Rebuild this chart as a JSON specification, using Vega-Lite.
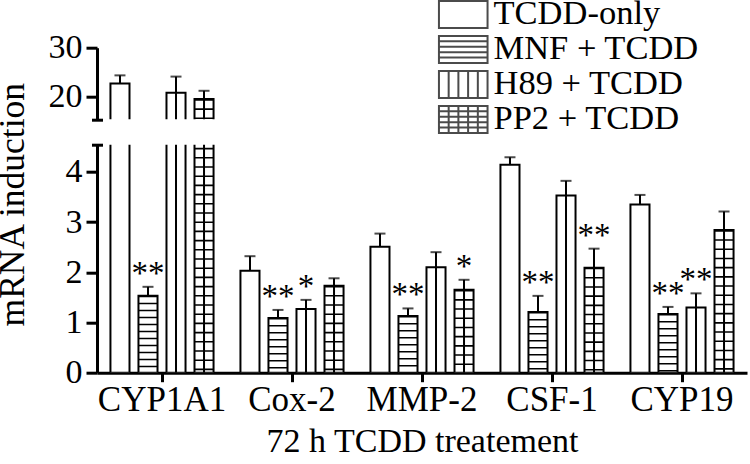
{
  "$schema": "https://vega.github.io/schema/vega-lite/v6.json",
  "background": "white",
  "autosize": {"type": "none"},
  "padding": {"left": 97, "top": 47.7, "right": 653, "bottom": 416.3},
  "spacing": 25,
  "bounds": "flush",
  "config": {
    "font": "Liberation Serif",
    "view": {"stroke": null},
    "axis": {
      "labelFont": "Liberation Serif", "titleFont": "Liberation Serif",
      "labelFontSize": 34, "titleFontSize": 34, "titleFontWeight": "normal",
      "domainColor": "black", "tickColor": "black", "labelColor": "black", "titleColor": "black",
      "domainWidth": 3, "tickWidth": 3, "grid": false
    },
    "legend": {
      "orient": "none", "legendX": 349, "legendY": -50.5, "title": null,
      "symbolSize": 729, "symbolStrokeWidth": 2, "symbolStrokeColor": "black",
      "labelFont": "Liberation Serif", "labelFontSize": 34.5, "labelColor": "black", "labelLimit": 0,
      "labelOffset": 13, "rowPadding": -5.5, "padding": 0
    }
  },
  "data": {"values": [
    {"gene":"CYP1A1","group":"TCDD-only","value":22.7,"upper":24.35,"sig":""},
    {"gene":"CYP1A1","group":"MNF + TCDD","value":1.53,"upper":1.71,"sig":"**"},
    {"gene":"CYP1A1","group":"H89 + TCDD","value":20.8,"upper":24.1,"sig":""},
    {"gene":"CYP1A1","group":"PP2 + TCDD","value":19.5,"upper":21.2,"sig":""},
    {"gene":"Cox-2","group":"TCDD-only","value":2.03,"upper":2.32,"sig":""},
    {"gene":"Cox-2","group":"MNF + TCDD","value":1.09,"upper":1.25,"sig":"**"},
    {"gene":"Cox-2","group":"H89 + TCDD","value":1.27,"upper":1.45,"sig":"*"},
    {"gene":"Cox-2","group":"PP2 + TCDD","value":1.73,"upper":1.88,"sig":""},
    {"gene":"MMP-2","group":"TCDD-only","value":2.51,"upper":2.77,"sig":""},
    {"gene":"MMP-2","group":"MNF + TCDD","value":1.13,"upper":1.28,"sig":"**"},
    {"gene":"MMP-2","group":"H89 + TCDD","value":2.1,"upper":2.4,"sig":""},
    {"gene":"MMP-2","group":"PP2 + TCDD","value":1.65,"upper":1.85,"sig":"*"},
    {"gene":"CSF-1","group":"TCDD-only","value":4.14,"upper":4.29,"sig":""},
    {"gene":"CSF-1","group":"MNF + TCDD","value":1.21,"upper":1.53,"sig":"**"},
    {"gene":"CSF-1","group":"H89 + TCDD","value":3.53,"upper":3.82,"sig":""},
    {"gene":"CSF-1","group":"PP2 + TCDD","value":2.09,"upper":2.47,"sig":"**"},
    {"gene":"CYP19","group":"TCDD-only","value":3.35,"upper":3.54,"sig":""},
    {"gene":"CYP19","group":"MNF + TCDD","value":1.17,"upper":1.31,"sig":"**"},
    {"gene":"CYP19","group":"H89 + TCDD","value":1.3,"upper":1.58,"sig":"**"},
    {"gene":"CYP19","group":"PP2 + TCDD","value":2.84,"upper":3.21,"sig":""}
  ]},
  "vconcat": [
    {
      "width": 650,
      "height": 71.5,
      "encoding": {
        "x": {"field": "gene", "type": "nominal", "scale": {"domain": ["CYP1A1","Cox-2","MMP-2","CSF-1","CYP19"], "paddingInner": 0, "paddingOuter": 0}, "axis": null},
        "xOffset": {"field": "group", "type": "nominal", "scale": {"domain": ["TCDD-only","MNF + TCDD","H89 + TCDD","PP2 + TCDD"], "paddingInner": 0.32, "paddingOuter": 0.48}}
      },
      "layer": [
        {
          "transform": [{"filter": "datum.value > 15"}],
          "mark": {"type": "bar", "fill": "white", "stroke": "black", "strokeWidth": 2, "clip": true},
          "encoding": {
            "y": {"field": "value", "type": "quantitative", "scale": {"domain": [15.4, 30], "nice": false, "zero": false},
                  "axis": {"values": [20, 30], "title": null, "tickSize": 11, "labelPadding": 4, "orient": "left"}},
            "y2": {"datum": 0}
          }
        },
        {
          "transform": [{"filter": "datum.value > 15 && datum.group === 'PP2 + TCDD'"}],
          "mark": {"type": "rule", "color": "black", "strokeWidth": 18, "strokeDash": [1.6, 7.6], "strokeCap": "butt", "clip": true},
          "encoding": {
            "y": {"field": "value", "type": "quantitative", "scale": {"domain": [15.4, 30], "nice": false, "zero": false}, "axis": null},
            "y2": {"datum": 0}
          }
        },
        {
          "transform": [{"filter": "datum.value > 15 && (datum.group === 'PP2 + TCDD' || datum.group === 'H89 + TCDD')"}],
          "mark": {"type": "rule", "color": "black", "strokeWidth": 2, "clip": true},
          "encoding": {
            "y": {"field": "value", "type": "quantitative", "scale": {"domain": [15.4, 30], "nice": false, "zero": false}, "axis": null},
            "y2": {"datum": 0}
          }
        },
        {
          "transform": [{"filter": "datum.value > 15"}],
          "mark": {"type": "rule", "color": "black", "strokeWidth": 2},
          "encoding": {
            "y": {"field": "value", "type": "quantitative", "scale": {"domain": [15.4, 30], "nice": false, "zero": false}, "axis": null},
            "y2": {"field": "upper"}
          }
        },
        {
          "transform": [{"filter": "datum.value > 15"}],
          "mark": {"type": "tick", "color": "black", "size": 11, "thickness": 2},
          "encoding": {
            "y": {"field": "upper", "type": "quantitative", "scale": {"domain": [15.4, 30], "nice": false, "zero": false},
                  "axis": {"orient": "left", "values": [15.4], "labels": false, "domain": false, "tickSize": 11, "offset": -5.5, "title": null}}
          }
        },
        {
          "transform": [{"filter": "datum.gene === 'CYP1A1'"}],
          "mark": {"type": "point", "filled": false, "color": "black", "strokeWidth": 2, "clip": true},
          "encoding": {
            "y": {"datum": 0, "type": "quantitative", "scale": {"domain": [15.4, 30], "nice": false, "zero": false}, "axis": null},
            "shape": {"field": "group", "type": "nominal",
              "scale": {"domain": ["TCDD-only","MNF + TCDD","H89 + TCDD","PP2 + TCDD"],
                "range": [
                  "M-1.8,-1H1.8V1H-1.8Z",
                  "M-1.8,-1H1.8V1H-1.8Z M-1.8,-0.6H1.8 M-1.8,-0.2H1.8 M-1.8,0.2H1.8 M-1.8,0.6H1.8",
                  "M-1.8,-1H1.8V1H-1.8Z M-1.08,-1V1 M-0.36,-1V1 M0.36,-1V1 M1.08,-1V1",
                  "M-1.8,-1H1.8V1H-1.8Z M-1.8,-0.6H1.8 M-1.8,-0.2H1.8 M-1.8,0.2H1.8 M-1.8,0.6H1.8 M-1.08,-1V1 M-0.36,-1V1 M0.36,-1V1 M1.08,-1V1"
                ]},
              "legend": {"title": null}}
          }
        }
      ],
      "resolve": {"scale": {"y": "shared"}, "axis": {"y": "independent"}}
    },
    {
      "width": 650,
      "height": 228,
      "encoding": {
        "x": {"field": "gene", "type": "nominal", "scale": {"domain": ["CYP1A1","Cox-2","MMP-2","CSF-1","CYP19"], "paddingInner": 0, "paddingOuter": 0},
              "axis": {"title": "72 h TCDD treatement", "labelAngle": 0, "labelFontSize": 35, "tickSize": 9, "labelPadding": 1, "titleY": 79, "titleBaseline": "alphabetic"}},
        "xOffset": {"field": "group", "type": "nominal", "scale": {"domain": ["TCDD-only","MNF + TCDD","H89 + TCDD","PP2 + TCDD"], "paddingInner": 0.32, "paddingOuter": 0.48}}
      },
      "layer": [
        {
          "mark": {"type": "bar", "fill": "white", "stroke": "black", "strokeWidth": 2, "clip": true},
          "encoding": {
            "y": {"field": "value", "type": "quantitative", "scale": {"domain": [0, 4.54], "nice": false, "zero": false},
                  "axis": {"values": [0, 1, 2, 3, 4], "title": "mRNA induction", "titleFontSize": 35.5, "tickSize": 11, "labelPadding": 4, "orient": "left",
                           "titleX": -74, "titleY": 59.5, "titleBaseline": "alphabetic", "titleAngle": -90}},
            "y2": {"datum": 0}
          }
        },
        {
          "transform": [{"filter": "datum.group === 'MNF + TCDD'"}],
          "mark": {"type": "rule", "color": "black", "strokeWidth": 18, "strokeDash": [1.5, 5.5], "strokeCap": "butt", "clip": true},
          "encoding": {
            "y": {"field": "value", "type": "quantitative", "scale": {"domain": [0, 4.54], "nice": false, "zero": false}, "axis": null},
            "y2": {"datum": 0}
          }
        },
        {
          "transform": [{"filter": "datum.group === 'PP2 + TCDD'"}],
          "mark": {"type": "rule", "color": "black", "strokeWidth": 18, "strokeDash": [1.6, 7.6], "strokeCap": "butt", "clip": true},
          "encoding": {
            "y": {"field": "value", "type": "quantitative", "scale": {"domain": [0, 4.54], "nice": false, "zero": false}, "axis": null},
            "y2": {"datum": 0}
          }
        },
        {
          "transform": [{"filter": "datum.group === 'PP2 + TCDD' || datum.group === 'H89 + TCDD'"}],
          "mark": {"type": "rule", "color": "black", "strokeWidth": 2, "clip": true},
          "encoding": {
            "y": {"field": "value", "type": "quantitative", "scale": {"domain": [0, 4.54], "nice": false, "zero": false}, "axis": null},
            "y2": {"datum": 0}
          }
        },
        {
          "transform": [{"filter": "datum.value < 4.54"}],
          "mark": {"type": "rule", "color": "black", "strokeWidth": 2},
          "encoding": {
            "y": {"field": "value", "type": "quantitative", "scale": {"domain": [0, 4.54], "nice": false, "zero": false}, "axis": null},
            "y2": {"field": "upper"}
          }
        },
        {
          "transform": [{"filter": "datum.value < 4.54"}],
          "mark": {"type": "tick", "color": "black", "size": 11, "thickness": 2},
          "encoding": {
            "y": {"field": "upper", "type": "quantitative", "scale": {"domain": [0, 4.54], "nice": false, "zero": false},
                  "axis": {"orient": "left", "values": [4.54], "labels": false, "domain": false, "tickSize": 11, "offset": -5.5, "title": null}}
          }
        },
        {
          "transform": [{"filter": "datum.value < 4.54"}],
          "mark": {"type": "text", "color": "black", "font": "Liberation Serif", "fontSize": 33, "baseline": "alphabetic", "align": "center", "dy": -3},
          "encoding": {
            "y": {"field": "upper", "type": "quantitative", "scale": {"domain": [0, 4.54], "nice": false, "zero": false}, "axis": null},
            "text": {"field": "sig"}
          }
        }
      ],
      "resolve": {"scale": {"y": "shared"}, "axis": {"y": "independent"}}
    }
  ]
}
